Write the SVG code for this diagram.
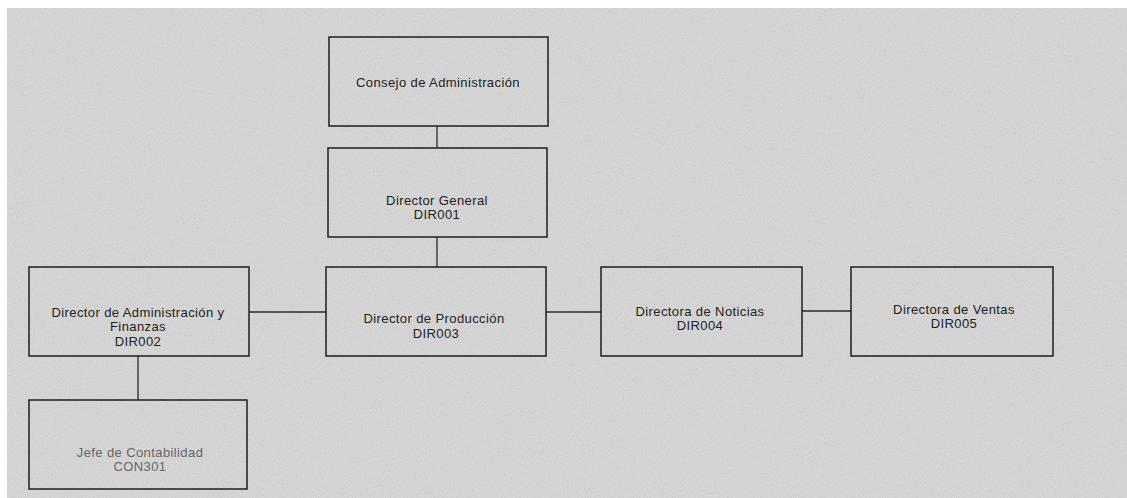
<svg xmlns="http://www.w3.org/2000/svg" width="1127" height="498" viewBox="0 0 1127 498">
<defs>
<filter id="noise" x="0" y="0" width="100%" height="100%">
<feTurbulence type="fractalNoise" baseFrequency="0.9 0.6" numOctaves="1" seed="3" result="t"/>
<feColorMatrix in="t" type="matrix" values="0 0 0 0 0.5  0 0 0 0 0.5  0 0 0 0 0.5  0 0 0 -1.6 1.1" result="n"/>
<feComposite in="n" in2="SourceGraphic" operator="in"/>
</filter>
<style>
.box{fill:none;stroke:#1e1e1e;stroke-width:1.5}
.t{font-family:"Liberation Sans",Arial,sans-serif;font-size:13px;letter-spacing:0.4px;fill:#222;text-anchor:middle}
.faint{fill:#666}
.c{stroke:#2a2a2a;stroke-width:1.3;fill:none}
</style>
</defs>
<rect x="0" y="0" width="1127" height="498" fill="#ffffff"/>
<rect x="7" y="8" width="1120" height="490" fill="#d6d6d6"/>
<rect x="7" y="8" width="1120" height="490" fill="#d6d6d6" filter="url(#noise)" opacity="0.35"/>
<g id="connectors">
<line class="c" x1="437" y1="126" x2="437" y2="148"/>
<line class="c" x1="437" y1="237" x2="437" y2="267"/>
<line class="c" x1="249" y1="312" x2="326" y2="312"/>
<line class="c" x1="546" y1="312" x2="601" y2="312"/>
<line class="c" x1="802" y1="311" x2="851" y2="311"/>
<line class="c" x1="138" y1="356" x2="138" y2="400"/>
</g>
<g id="consejo">
<rect class="box" x="329" y="37" width="219" height="89"/>
<text class="t" x="438" y="87">Consejo de Administración</text>
</g>
<g id="dir001">
<rect class="box" x="328" y="148" width="219" height="89"/>
<text class="t" x="437" y="205">Director General</text>
<text class="t" x="437" y="219">DIR001</text>
</g>
<g id="dir002">
<rect class="box" x="29" y="267" width="220" height="89"/>
<text class="t" x="138" y="317">Director de Administración y</text>
<text class="t" x="138" y="331">Finanzas</text>
<text class="t" x="138" y="346">DIR002</text>
</g>
<g id="dir003">
<rect class="box" x="326" y="267" width="220" height="89"/>
<text class="t" x="434" y="323">Director de Producción</text>
<text class="t" x="436" y="338">DIR003</text>
</g>
<g id="dir004">
<rect class="box" x="601" y="267" width="201" height="89"/>
<text class="t" x="700" y="316">Directora de Noticias</text>
<text class="t" x="700" y="330">DIR004</text>
</g>
<g id="dir005">
<rect class="box" x="851" y="267" width="202" height="89"/>
<text class="t" x="954" y="314">Directora de Ventas</text>
<text class="t" x="954" y="328">DIR005</text>
</g>
<g id="con301">
<rect class="box" x="29" y="400" width="218" height="89"/>
<text class="t faint" x="140" y="457">Jefe de Contabilidad</text>
<text class="t faint" x="140" y="471">CON301</text>
</g>
</svg>
